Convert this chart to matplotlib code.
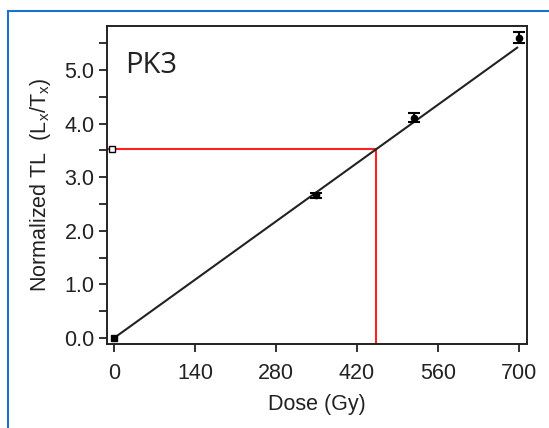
import matplotlib
matplotlib.use('Agg')
import matplotlib.pyplot as plt
from matplotlib.lines import Line2D

# Regeneration points (dose in Gy, normalized TL Lx/Tx)
dose = [0, 350, 518, 700]
tl = [0.0, 2.66, 4.11, 5.60]
tl_err = [0.03, 0.05, 0.08, 0.10]

# Linear fit through origin and the interpolated natural signal
fit_dose = [0, 697]
fit_slope = 0.00777
natural_tl = 3.52
de = 453

plt.rcParams['font.family'] = ['Liberation Sans', 'DejaVu Sans']

fig = plt.figure(figsize=(5.49, 4.28), dpi=100)
ax = fig.add_axes([107 / 549, 84 / 428, 420 / 549, 318 / 428])

# fit line
ax.plot(fit_dose, [fit_slope * d for d in fit_dose], color='#222222', lw=1.5, zorder=3)

# equivalent dose construction
ax.plot([-12, de], [natural_tl, natural_tl], color='#ff2020', lw=1.5, zorder=2)
ax.plot([de, de], [natural_tl, -0.2], color='#ff2020', lw=1.5, zorder=2)
ax.plot([-3], [natural_tl], marker='s', ms=5, mfc='white', mec='black', mew=1.0,
        ls='none', zorder=4, clip_on=False)

# data points
ax.errorbar(dose[1:], tl[1:], yerr=tl_err[1:], fmt='o', ms=4.5, color='black',
            ecolor='black', elinewidth=1.5, capsize=4.5, capthick=1.5, zorder=4)
ax.plot(dose[:1], tl[:1], marker='s', ms=5, color='black', ls='none', zorder=4, clip_on=False)

ax.set_xlim(-12, 714)
ax.set_ylim(-0.11, 5.82)
ax.set_xticks([0, 140, 280, 420, 560, 700])
ax.set_yticks([0, 1, 2, 3, 4, 5])
ax.set_yticklabels(['0.0', '1.0', '2.0', '3.0', '4.0', '5.0'])
ax.set_yticks([0.5, 1.5, 2.5, 3.5, 4.5, 5.5], minor=True)

for s in ax.spines.values():
    s.set_linewidth(1.4)
    s.set_color('#222222')
ax.tick_params(which='both', direction='out', length=6, width=1.3, color='#222222',
               labelsize=15.5, labelcolor='#222222')
ax.tick_params(axis='y', pad=3)
ax.tick_params(axis='x', pad=8)

ax.set_xlabel('Dose (Gy)', fontsize=15.5, color='#222222', labelpad=7)
ax.set_ylabel(r'Normalized TL  (L$_\mathregular{x}$/T$_\mathregular{x}$)', fontsize=15.5,
              color='#222222', labelpad=8)

ax.text(0.043, 0.92, 'PK3', transform=ax.transAxes, fontsize=21, family='Open Sans',
        color='#222222', va='top', ha='left')

# blue frame around the figure (only top and left visible)
fig.add_artist(Line2D([8 / 549, 8 / 549], [0, 1 - 11 / 428], transform=fig.transFigure,
                      color='#1a73c8', lw=1.5))
fig.add_artist(Line2D([8 / 549, 1], [1 - 11 / 428, 1 - 11 / 428], transform=fig.transFigure,
                      color='#1a73c8', lw=1.5))

fig.savefig('out.png', dpi=100)
